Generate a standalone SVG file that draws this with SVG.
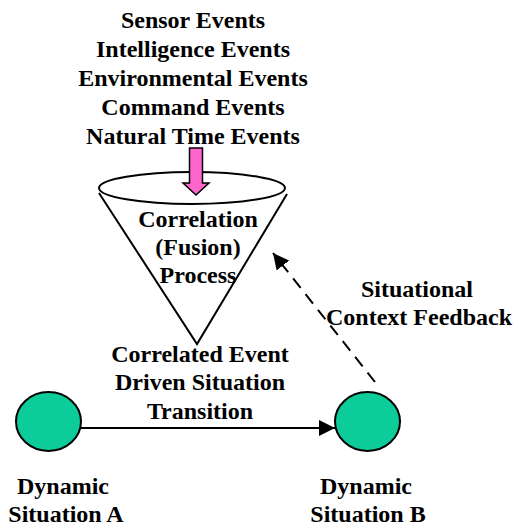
<svg xmlns="http://www.w3.org/2000/svg" width="515" height="526" viewBox="0 0 515 526">
<defs>
<style>
.ln{stroke:#000;stroke-width:2;fill:none}
.st{fill:#0ccc99;stroke:#000;stroke-width:2}
</style>
<marker id="ah2" viewBox="0 0 16 16" refX="16" refY="8" markerWidth="16" markerHeight="16" markerUnits="userSpaceOnUse" orient="auto"><path d="M0,0L16,8L0,16z" fill="#000"/></marker>
</defs>
<g font-family="Liberation Serif, Times New Roman, serif" font-weight="bold" font-size="24" text-anchor="middle" fill="#000">
<g id="events">
<text x="193" y="28">Sensor Events</text>
<text x="193" y="57">Intelligence Events</text>
<text x="193" y="86">Environmental Events</text>
<text x="193" y="115">Command Events</text>
<text x="193" y="144">Natural Time Events</text>
</g>
<g id="funnel">
<ellipse cx="192" cy="188" rx="93" ry="16" class="ln"/>
<path d="M99,193L197,344L287,194" class="ln"/>
<text x="198" y="227">Correlation</text>
<text x="198" y="255">(Fusion)</text>
<text x="198" y="283">Process</text>
</g>
<g id="inputArrow">
<path d="M189.5,148H202.5V183H209L196,195L183,183H189.5Z" fill="#ff66cc" stroke="#000" stroke-width="1.5"/>
</g>
<g id="situationA">
<ellipse cx="48.5" cy="421.5" rx="32.5" ry="29.5" class="st"/>
<text x="63" y="494">Dynamic</text>
<text x="66" y="522">Situation A</text>
</g>
<g id="situationB">
<ellipse cx="367.5" cy="421.5" rx="32.5" ry="29.5" class="st"/>
<text x="366" y="494">Dynamic</text>
<text x="368" y="522">Situation B</text>
</g>
<g id="connectors">
<path d="M81,428H335" class="ln" marker-end="url(#ah2)"/>
<path d="M375,382L273,253" class="ln" stroke-dasharray="12,8" marker-end="url(#ah2)"/>
</g>
<g id="labels">
<text x="200" y="362">Correlated Event</text>
<text x="200" y="390">Driven Situation</text>
<text x="200" y="419">Transition</text>
<text x="417" y="297">Situational</text>
<text x="419" y="325">Context Feedback</text>
</g>
</g>
</svg>
